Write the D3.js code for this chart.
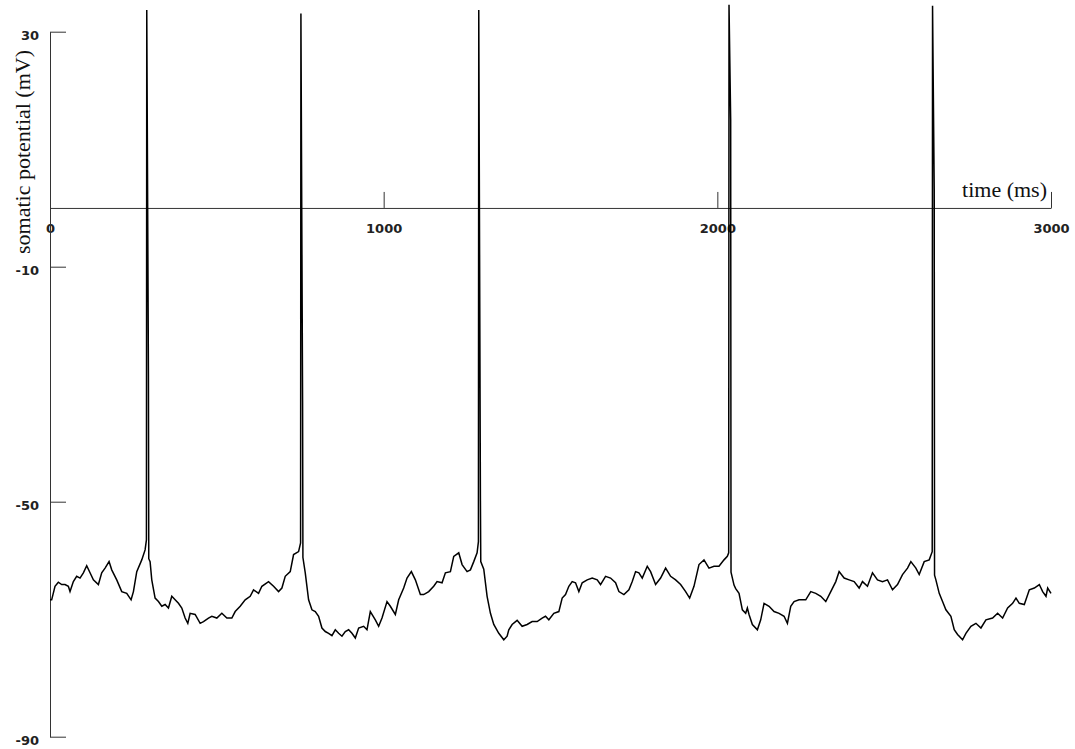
<!DOCTYPE html>
<html>
<head>
<meta charset="utf-8">
<script src="https://cdn.jsdelivr.net/npm/d3@7"></script>
<style>
  body { margin: 0; background: #fff; }
  .axis text { font-family: 'DejaVu Sans', sans-serif; font-weight: bold; font-size: 13px; fill: #222; }
  .axis-title { font-family: 'Liberation Serif', serif; font-size: 22px; fill: #111; }
</style>
</head>
<body>
<svg id="chart" width="1075" height="749"></svg>
<script>
// subthreshold trace (ms, mV)
const timeMs = [
  0, 5, 15, 25, 35, 45, 55, 60, 70, 80, 90, 100, 110, 120, 130, 145, 155, 165, 177, 185,
  200, 215, 230, 243, 250, 260, 275, 285, 289, 296, 300, 305, 315, 325, 335, 345, 355, 365, 375, 385,
  395, 405, 413, 420, 435, 450, 460, 475, 485, 500, 515, 530, 545, 555, 570, 585, 600, 610, 625, 635,
  655, 670, 685, 695, 705, 720, 730, 745, 751, 758, 765, 775, 785, 795, 805, 815, 825, 835, 845, 855,
  865, 875, 885, 895, 905, 915, 925, 940, 950, 960, 975, 985, 995, 1010, 1020, 1035, 1045, 1060, 1070, 1083,
  1095, 1110, 1120, 1135, 1150, 1160, 1175, 1185, 1200, 1210, 1225, 1235, 1250, 1260, 1270, 1280, 1284, 1291, 1300, 1310,
  1320, 1330, 1345, 1360, 1370, 1375, 1385, 1400, 1415, 1430, 1445, 1460, 1475, 1485, 1495, 1510, 1525, 1535, 1545, 1555,
  1565, 1575, 1585, 1595, 1610, 1625, 1640, 1650, 1665, 1680, 1695, 1705, 1720, 1735, 1745, 1755, 1765, 1775, 1790, 1800,
  1815, 1830, 1845, 1860, 1875, 1890, 1905, 1917, 1930, 1945, 1960, 1975, 1990, 2005, 2020, 2030, 2034, 2041, 2050, 2055,
  2065, 2075, 2085, 2090, 2095, 2105, 2120, 2130, 2140, 2155, 2170, 2185, 2200, 2210, 2220, 2230, 2245, 2265, 2280, 2295,
  2310, 2325, 2340, 2355, 2365, 2380, 2395, 2410, 2425, 2435, 2450, 2465, 2480, 2495, 2510, 2525, 2540, 2555, 2570, 2580,
  2595, 2605, 2620, 2635, 2644, 2651, 2655, 2665, 2675, 2685, 2700, 2710, 2720, 2735, 2745, 2760, 2775, 2790, 2805, 2825,
  2840, 2855, 2870, 2885, 2895, 2905, 2920, 2935, 2950, 2965, 2975, 2985, 2990, 3000
];
const somaMv = [
  -66.7, -66.7, -64.4, -63.7, -64.1, -64.1, -64.4, -65.3, -63.6, -62.7, -63.0, -62.1, -60.9, -62.1, -63.3, -64.1, -62.1, -61.3, -60.2, -61.6,
  -63.3, -65.3, -65.6, -66.7, -65.3, -61.9, -59.9, -58.2, -56.5, -59.7, -60.2, -63.3, -66.4, -67.0, -67.8, -67.5, -68.1, -66.1, -66.7, -67.3,
  -68.1, -69.8, -70.7, -69.0, -69.2, -70.7, -70.4, -69.8, -69.5, -69.8, -69.0, -69.8, -69.8, -68.7, -67.8, -66.7, -66.1, -65.0, -65.6, -64.4,
  -63.6, -64.4, -65.3, -64.7, -62.7, -61.9, -59.0, -58.5, -57.0, -59.5, -62.1, -66.7, -68.4, -68.7, -69.5, -71.5, -72.1, -72.4, -72.8, -71.8,
  -72.4, -72.9, -72.1, -71.8, -72.4, -73.2, -71.5, -71.2, -71.8, -68.7, -70.1, -71.2, -69.8, -67.0, -67.8, -69.2, -66.7, -64.7, -63.0, -61.9,
  -63.3, -65.8, -65.8, -65.3, -64.4, -63.6, -63.8, -62.1, -61.9, -59.3, -58.7, -60.7, -61.9, -61.6, -60.2, -58.7, -56.8, -60.2, -61.5, -66.1,
  -69.0, -70.9, -72.4, -73.5, -72.9, -71.8, -70.9, -70.2, -71.2, -70.9, -70.4, -70.4, -69.8, -69.5, -70.1, -69.0, -68.7, -66.4, -65.8, -64.4,
  -63.6, -63.8, -65.3, -63.8, -63.3, -63.0, -63.3, -64.1, -62.7, -63.0, -63.8, -65.3, -65.8, -65.0, -63.6, -61.9, -62.1, -63.0, -61.0, -61.9,
  -64.1, -63.0, -61.3, -62.7, -63.3, -64.1, -65.3, -66.4, -64.4, -60.7, -59.9, -61.3, -61.0, -61.0, -59.9, -59.3, -58.7, -62.0, -64.2, -64.8,
  -65.6, -68.4, -69.0, -68.1, -69.2, -70.9, -71.8, -70.1, -67.3, -67.8, -68.7, -69.0, -69.5, -70.7, -67.8, -67.0, -66.7, -66.7, -65.3, -65.6,
  -66.1, -67.0, -65.3, -63.6, -61.9, -63.0, -63.3, -63.6, -64.7, -63.6, -64.4, -62.1, -63.3, -63.6, -63.3, -65.0, -64.1, -62.4, -61.3, -60.2,
  -61.3, -62.4, -60.2, -59.9, -58.5, -62.5, -63.3, -65.6, -67.0, -68.4, -69.5, -71.8, -72.6, -73.5, -72.4, -71.2, -70.7, -71.5, -70.1, -69.8,
  -69.0, -69.8, -68.1, -67.3, -66.4, -67.3, -67.5, -65.0, -64.7, -64.1, -65.3, -66.1, -64.7, -65.6
];

// action potentials: peak sample and the sample right after it
const spikeTimes = [290, 752, 1285, 2035, 2645];
const spikePeaks = [33.7, 33.1, 33.7, 34.6, 34.4];
const spikeAfter = [-28.4, -32.9, -49.9, 15.0, 3.2];

const xTicks = [0, 1000, 2000, 3000];
const yTicks = [30, -10, -50, -90];

const w = 1075;
const h = 749;

const trace = timeMs.map((t, i) => [t, somaMv[i]]);
spikeTimes.forEach((t, i) => {
  trace.push([t, spikePeaks[i]]);
  trace.push([t + 5, spikeAfter[i]]);
});
trace.sort((a, b) => a[0] - b[0]);

const xScale = d3.scaleLinear()
  .domain([0, 3000])
  .range([50, 1051]);
const yScale = d3.scaleLinear()
  .domain([-90, 30])
  .range([736.7, 31.7]);

const svg = d3.select('#chart');
svg.append('rect').attr('width', w).attr('height', h).attr('fill', '#fff');

// x axis sits on 0 mV, ticks point up
svg.append('g')
  .attr('class', 'axis x-axis')
  .attr('transform', `translate(0, ${yScale(0)})`)
  .style('color', '#333')
  .call(d3.axisBottom(xScale).tickValues(xTicks).tickSizeInner(-16).tickSizeOuter(0).tickPadding(16).tickFormat((d) => String(d)));

// y axis, ticks point right
svg.append('g')
  .attr('class', 'axis y-axis')
  .attr('transform', 'translate(50, 0)')
  .style('color', '#333')
  .call(d3.axisLeft(yScale).tickValues(yTicks).tickSizeInner(-16).tickSizeOuter(0).tickPadding(11).tickFormat((d) => String(d)))
  .selectAll('text')
  .attr('dy', '0.62em');

svg.append('path')
  .datum(trace)
  .attr('fill', 'none')
  .attr('stroke', '#000')
  .attr('stroke-width', 1.5)
  .attr('stroke-linejoin', 'miter')
  .attr('d', d3.line()
    .x((d) => xScale(d[0]))
    .y((d) => yScale(d[1])));

svg.append('text')
  .attr('class', 'axis-title')
  .attr('transform', 'translate(30, 152) rotate(-90)')
  .attr('text-anchor', 'middle')
  .text('somatic potential (mV)');

svg.append('text')
  .attr('class', 'axis-title')
  .attr('x', 1047)
  .attr('y', 197)
  .attr('text-anchor', 'end')
  .text('time (ms)');
</script>
</body>
</html>
